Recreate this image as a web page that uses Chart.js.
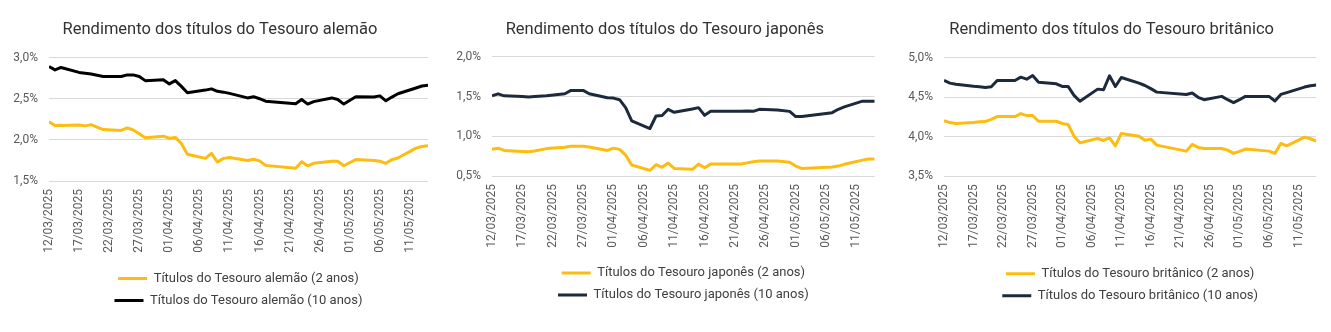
<!DOCTYPE html>
<html>
<head>
<meta charset="utf-8">
<script src="https://cdn.jsdelivr.net/npm/chart.js@4/dist/chart.umd.min.js"></script>
<style>
  body { margin: 0; background: #fff; }
  #wrap { display: flex; width: 1331px; height: 332px; }
  .panel { position: relative; height: 332px; }
</style>
</head>
<body>
<div id="wrap">
  <div class="panel" style="width:443px"><canvas id="c_de"></canvas></div>
  <div class="panel" style="width:443px"><canvas id="c_jp"></canvas></div>
  <div class="panel" style="width:445px"><canvas id="c_uk"></canvas></div>
</div>
<script>
"use strict";

// dias úteis (12/03/2025 a 14/05/2025)
const dates = [
  '12/03/2025', '13/03/2025', '14/03/2025', '17/03/2025', '18/03/2025', '19/03/2025', '20/03/2025', '21/03/2025',
  '24/03/2025', '25/03/2025', '26/03/2025', '27/03/2025', '28/03/2025', '31/03/2025', '01/04/2025', '02/04/2025',
  '03/04/2025', '04/04/2025', '07/04/2025', '08/04/2025', '09/04/2025', '10/04/2025', '11/04/2025', '14/04/2025',
  '15/04/2025', '16/04/2025', '17/04/2025', '18/04/2025', '21/04/2025', '22/04/2025', '23/04/2025', '24/04/2025',
  '25/04/2025', '28/04/2025', '29/04/2025', '30/04/2025', '01/05/2025', '02/05/2025', '05/05/2025', '06/05/2025',
  '07/05/2025', '08/05/2025', '09/05/2025', '12/05/2025', '13/05/2025', '14/05/2025'
];

// Alemanha
const de_2 = [2.22, 2.175, 2.175, 2.18, 2.17, 2.185, 2.155, 2.125, 2.115, 2.145, 2.12, 2.075, 2.025, 2.045, 2.02, 2.03,
  1.955, 1.825, 1.775, 1.835, 1.73, 1.775, 1.785, 1.75, 1.765, 1.745, 1.69, null, null, 1.655, 1.735, 1.685,
  1.715, 1.74, 1.74, 1.685, null, 1.76, 1.75, 1.74, 1.715, 1.76, 1.78, 1.90, 1.92, 1.93];
const de_10 = [2.89, 2.85, 2.88, 2.82, 2.81, 2.80, 2.785, 2.77, 2.77, 2.79, 2.79, 2.77, 2.72, 2.73, 2.68, 2.72,
  2.65, 2.573, 2.605, 2.62, 2.59, 2.58, 2.565, 2.51, 2.525, 2.50, 2.47, null, null, 2.44, 2.49, 2.435,
  2.465, 2.51, 2.49, 2.435, null, 2.525, 2.52, 2.535, 2.475, 2.52, 2.56, 2.63, 2.655, 2.665];

// Japão
const jp_2 = [0.835, 0.85, 0.822, 0.81, 0.805, 0.815, null, 0.845, 0.863, 0.876, 0.876, 0.876, 0.865, 0.822, 0.851, 0.835,
  0.763, 0.638, 0.571, 0.642, 0.609, 0.663, 0.596, 0.584, 0.65, 0.604, 0.65, 0.65, 0.65, 0.65, 0.665, 0.68,
  0.688, 0.688, null, 0.672, 0.625, 0.596, null, null, 0.613, 0.625, 0.647, 0.70, 0.713, 0.713];
const jp_10 = [1.51, 1.535, 1.51, 1.50, 1.495, 1.50, null, 1.51, 1.536, 1.578, 1.578, 1.578, 1.536, 1.486, 1.481, 1.461,
  1.361, 1.193, 1.098, 1.256, 1.261, 1.34, 1.302, 1.345, 1.361, 1.264, 1.314, 1.314, 1.314, 1.314, 1.32, 1.314,
  1.34, 1.33, null, 1.314, 1.248, 1.248, null, null, 1.298, 1.34, 1.37, 1.443, 1.44, 1.44];

// Reino Unido
const uk_2 = [4.205, 4.18, 4.168, 4.18, 4.19, 4.193, 4.22, 4.256, 4.256, 4.294, 4.269, 4.269, 4.197, 4.197, 4.168, 4.155,
  4.008, 3.923, 3.979, 3.953, 3.986, 3.885, 4.042, 4.007, 3.957, 3.97, 3.894, null, null, 3.818, 3.903, 3.865,
  3.852, 3.852, 3.83, 3.789, 3.815, 3.844, null, 3.818, 3.789, 3.915, 3.885, 3.995, 3.975, 3.945];
const uk_10 = [4.714, 4.68, 4.665, 4.64, 4.635, 4.625, 4.635, 4.714, 4.714, 4.756, 4.73, 4.777, 4.692, 4.672, 4.638, 4.638,
  4.525, 4.45, 4.604, 4.596, 4.773, 4.638, 4.752, 4.68, 4.65, 4.61, 4.566, null, null, 4.537, 4.554, 4.50,
  4.47, 4.512, 4.47, 4.433, 4.47, 4.512, null, 4.512, 4.453, 4.537, 4.56, 4.63, 4.647, 4.655];

const startDate = new Date(2025, 2, 12);
function dayNo(s) {
  const [d, m, y] = s.split('/').map(Number);
  return Math.round((new Date(y, m - 1, d) - startDate) / 864e5);
}
function fmtDay(n) {
  const t = new Date(2025, 2, 12 + n);
  return String(t.getDate()).padStart(2, '0') + '/' + String(t.getMonth() + 1).padStart(2, '0') + '/' + t.getFullYear();
}
function points(vals) { return dates.map((s, i) => ({ x: dayNo(s), y: vals[i] })); }

const YELLOW = '#FDBC10';
const lastDay = dayNo(dates[dates.length - 1]);

const panels = [
  { id: 'c_de', title: 'Rendimento dos títulos do Tesouro alemão',
    names: ['Títulos do Tesouro alemão (2 anos)', 'Títulos do Tesouro alemão (10 anos)'],
    two: de_2, ten: de_10, tenColor: '#000000', yMin: 1.5, yMax: 3.0,
    pad: { left: 12, right: 15, top: 0, bottom: 15 }, titleBottom: 17.8, xH: 82 },
  { id: 'c_jp', title: 'Rendimento dos títulos do Tesouro japonês',
    names: ['Títulos do Tesouro japonês (2 anos)', 'Títulos do Tesouro japonês (10 anos)'],
    two: jp_2, ten: jp_10, tenColor: '#1C2A3C', yMin: 0.5, yMax: 2.0,
    pad: { left: 12, right: 11.3, top: 0, bottom: 20.5 }, titleBottom: 17.1, xH: 81.5 },
  { id: 'c_uk', title: 'Rendimento dos títulos do Tesouro britânico',
    names: ['Títulos do Tesouro britânico (2 anos)', 'Títulos do Tesouro britânico (10 anos)'],
    two: uk_2, ten: uk_10, tenColor: '#1C2A3C', yMin: 3.5, yMax: 5.0,
    pad: { left: 21, right: 14.7, top: 0, bottom: 19.8 }, titleBottom: 18.1, xH: 82 }
];

Chart.defaults.font.family = 'Roboto, "Noto Sans", sans-serif';
Chart.defaults.color = '#595959';

panels.forEach(p => {
  new Chart(document.getElementById(p.id), {
    type: 'line',
    data: {
      datasets: [
        { label: p.names[0], data: points(p.two), borderColor: YELLOW, backgroundColor: YELLOW },
        { label: p.names[1], data: points(p.ten), borderColor: p.tenColor, backgroundColor: p.tenColor }
      ]
    },
    options: {
      responsive: true,
      maintainAspectRatio: false,
      animation: false,
      devicePixelRatio: 1,
      spanGaps: true,
      layout: { padding: p.pad },
      elements: {
        line: { borderWidth: 3, tension: 0, borderJoinStyle: 'round' },
        point: { radius: 0, hoverRadius: 0, borderWidth: 3 }
      },
      scales: {
        x: {
          type: 'linear', min: 0, max: lastDay,
          grid: { display: false, drawTicks: false },
          border: { display: false },
          ticks: {
            stepSize: 5, includeBounds: false, autoSkip: false,
            maxRotation: 90, minRotation: 90, padding: 8,
            font: { size: 12 }, color: '#595959',
            callback: v => fmtDay(v)
          },
          afterFit: s => { s.height = p.xH; }
        },
        y: {
          min: p.yMin, max: p.yMax,
          grid: { color: '#D9D9D9', lineWidth: 1, drawTicks: false },
          border: { display: false },
          ticks: {
            stepSize: 0.5, padding: 11, font: { size: 12 }, color: '#595959',
            callback: v => v.toFixed(1).replace('.', ',') + '%'
          },
          afterFit: s => { s.width = 37; }
        }
      },
      plugins: {
        title: {
          display: true, text: p.title, color: '#333333',
          font: { size: 16.5, weight: 'normal' },
          padding: { top: 20, bottom: p.titleBottom }
        },
        legend: {
          position: 'bottom', fullSize: false,
          labels: {
            usePointStyle: true, pointStyle: 'line', pointStyleWidth: 29,
            padding: 9, color: '#404040', font: { size: 13 }
          }
        },
        tooltip: { enabled: false }
      }
    }
  });
});
</script>
</body>
</html>
